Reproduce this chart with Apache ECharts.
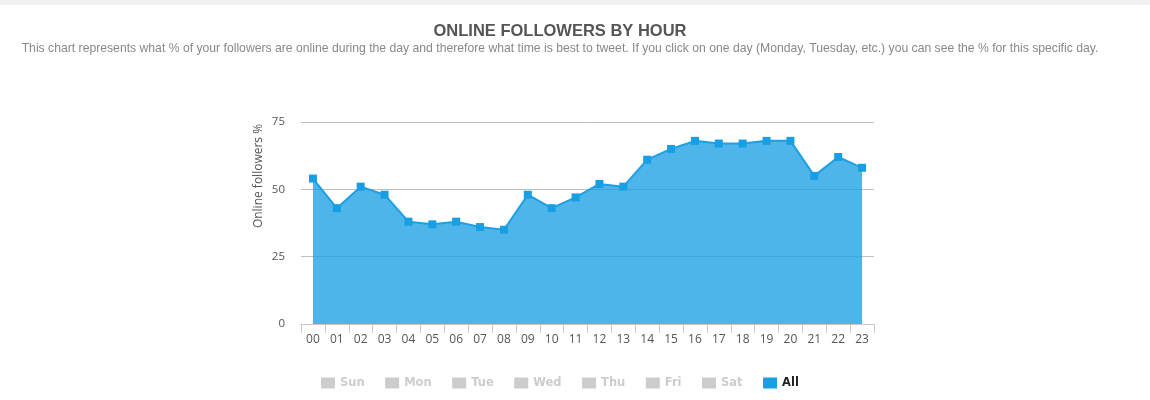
<!DOCTYPE html>
<html>
<head>
<meta charset="utf-8">
<title>Online followers by hour</title>
<script src="https://cdn.jsdelivr.net/npm/echarts@6/dist/echarts.min.js"></script>
<style>
  html, body { margin: 0; padding: 0; background: #fff; }
  #main { width: 1150px; height: 400px; }
</style>
</head>
<body>
<div id="main"></div>
<script>
// hours of the day
var hours = ['00','01','02','03','04','05','06','07','08','09','10','11',
             '12','13','14','15','16','17','18','19','20','21','22','23'];
// % of followers online, all days
var allDays = [54, 43, 51, 48, 38, 37, 38, 36, 35, 48, 43, 47,
               52, 51, 61, 65, 68, 67, 67, 68, 68, 55, 62, 58];
// single days are switched off in the legend, nothing shown for them
var dayNames = ['Sun', 'Mon', 'Tue', 'Wed', 'Thu', 'Fri', 'Sat'];
var yTicks = [0, 25, 50, 75];

var myChart = echarts.init(document.getElementById('main'));

var series = [];
var selected = {};
dayNames.forEach(function (d) {
    series.push({ name: d, type: 'line', data: [] });
    selected[d] = false;
});
series.push({
    name: 'All',
    type: 'line',
    data: allDays,
    symbol: 'rect',
    symbolSize: 8,
    color: '#179ee3',
    lineStyle: { width: 2, color: '#1e9fe2' },
    itemStyle: { color: '#179ee3' },
    areaStyle: { color: '#179ee3', opacity: 0.76 },
    z: 1
});
selected['All'] = true;

var option = {
    animation: false,
    title: {
        text: 'ONLINE FOLLOWERS BY HOUR',
        subtext: 'This chart represents what % of your followers are online during the day and therefore what time is best to tweet. If you click on one day (Monday, Tuesday, etc.) you can see the % for this specific day.',
        left: 555,
        textAlign: 'center',
        top: 18,
        itemGap: 3,
        textStyle: { fontFamily: 'Liberation Sans, Arial', fontSize: 16.5, fontWeight: 'bold', color: '#555' },
        subtextStyle: { fontFamily: 'Liberation Sans, Arial', fontSize: 12.2, color: '#888' }
    },
    graphic: [{
        type: 'rect',
        shape: { x: 0, y: 0, width: 1150, height: 5 },
        style: { fill: '#f0f0f0' }
    }],
    legend: {
        data: dayNames.concat(['All']),
        selected: selected,
        left: 316,
        top: 372,
        itemWidth: 14,
        itemHeight: 11,
        itemGap: 20.5,
        icon: 'rect',
        inactiveColor: '#ccc',
        selectedMode: true,
        textStyle: { fontFamily: 'DejaVu Sans, Verdana', fontSize: 11.5, fontWeight: 'bold', color: '#222' }
    },
    grid: { left: 301, right: 276, top: 122, bottom: 76 },
    xAxis: {
        type: 'category',
        data: hours,
        boundaryGap: true,
        axisLine: { lineStyle: { color: '#c8c8c8' } },
        axisTick: { show: true, length: 9, lineStyle: { color: '#c8c8c8' } },
        axisLabel: { color: '#555', fontFamily: 'Open Sans, DejaVu Sans', fontSize: 12, margin: 10 }
    },
    yAxis: {
        type: 'value',
        min: yTicks[0],
        max: yTicks[yTicks.length - 1],
        interval: 25,
        name: 'Online followers %',
        nameLocation: 'middle',
        nameRotate: 90,
        nameGap: 36,
        nameTextStyle: { color: '#555', fontFamily: 'Open Sans, DejaVu Sans', fontSize: 12, padding: [0, 0, 0, 94] },
        axisLine: { show: false },
        axisTick: { show: false },
        splitLine: { lineStyle: { color: '#c0c0c0', width: 1 } },
        axisLabel: { color: '#555', fontFamily: 'Open Sans, DejaVu Sans', fontSize: 11.5, margin: 16 }
    },
    series: series
};
myChart.setOption(option);
</script>
</body>
</html>
